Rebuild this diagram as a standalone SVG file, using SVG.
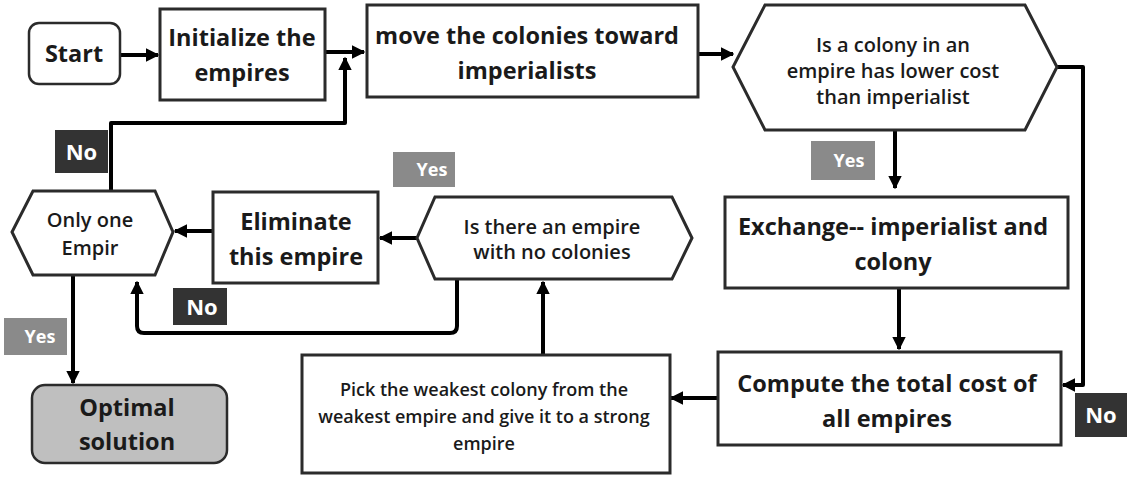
<svg xmlns="http://www.w3.org/2000/svg" width="1129" height="477" viewBox="0 0 1129 477">
  <defs>
    <style>
      .box { fill: #ffffff; stroke: #2b2b2b; stroke-width: 3; }
      .term { fill: #ffffff; stroke: #2b2b2b; stroke-width: 2.5; }
      .final { fill: #bfbfbf; stroke: #2b2b2b; stroke-width: 2.5; }
      .t { font-family: "Open Sans", "Liberation Sans", sans-serif; font-weight: 700; fill: #1a1a1a; text-anchor: middle; }
      .big { font-size: 23.5px; }
      .mid { font-size: 20px; font-weight: 600; }
      .sm { font-size: 18px; font-weight: 600; }
      .lblDark { fill: #333333; }
      .lblGray { fill: #8a8a8a; }
      .lt { font-family: "Open Sans", "Liberation Sans", sans-serif; font-weight: 700; font-size: 18px; fill: #ffffff; text-anchor: middle; }
      .lt.no { font-size: 22px; }
      .edge { fill: none; stroke: #000000; stroke-width: 4; stroke-linejoin: round; }
    </style>
    <marker id="arrow" viewBox="0 0 10 10" refX="9" refY="5" markerWidth="3.4" markerHeight="3.4" orient="auto" markerUnits="strokeWidth">
      <path d="M0,0 L10,5 L0,10 z" fill="#000000"/>
    </marker>
  </defs>

  <rect width="1129" height="477" fill="#ffffff"/>

  <!-- connectors -->
  <g id="connectors">
    <path class="edge" d="M120,55 L158,55" marker-end="url(#arrow)"/>
    <path class="edge" d="M325,52 L364,52" marker-end="url(#arrow)"/>
    <path class="edge" d="M111,191 L111,123 L345,123 L345,58" marker-end="url(#arrow)"/>
    <path class="edge" d="M698,54 L733,54" marker-end="url(#arrow)"/>
    <path class="edge" d="M895,130 L895,188" marker-end="url(#arrow)"/>
    <path class="edge" d="M1057,67 L1083,67 L1083,385 L1063,385" marker-end="url(#arrow)"/>
    <path class="edge" d="M899,288 L899,349" marker-end="url(#arrow)"/>
    <path class="edge" d="M718,398 L671,398" marker-end="url(#arrow)"/>
    <path class="edge" d="M543,355 L543,282" marker-end="url(#arrow)"/>
    <path class="edge" d="M417,238 L380,238" marker-end="url(#arrow)"/>
    <path class="edge" d="M457,279 L457,326 Q457,333 450,333 L144,333 Q137,333 137,326 L137,282" marker-end="url(#arrow)"/>
    <path class="edge" d="M213,231 L175,231" marker-end="url(#arrow)"/>
    <path class="edge" d="M73,275 L73,383" marker-end="url(#arrow)"/>
  </g>

  <!-- edge labels -->
  <g id="labels">
    <rect class="lblDark" x="55" y="130" width="53" height="43"/>
    <text class="lt no" x="81.5" y="160">No</text>
    <rect class="lblGray" x="393" y="152" width="62" height="35"/>
    <text class="lt" x="432" y="176">Yes</text>
    <rect class="lblDark" x="173" y="288" width="54" height="37"/>
    <text class="lt no" x="202" y="315">No</text>
    <rect class="lblGray" x="4" y="318" width="63" height="37"/>
    <text class="lt" x="40" y="343">Yes</text>
    <rect class="lblGray" x="811" y="141" width="64" height="39"/>
    <text class="lt" x="849" y="167">Yes</text>
    <rect class="lblDark" x="1075" y="393" width="52" height="44"/>
    <text class="lt no" x="1101" y="423">No</text>
  </g>

  <g id="start">
    <rect class="term" x="29" y="23" width="91" height="61" rx="10"/>
    <text class="t big" x="74" y="62">Start</text>
  </g>

  <g id="init">
    <rect class="box" x="160" y="9" width="165" height="91"/>
    <text class="t big" x="242" y="46">Initialize the</text>
    <text class="t big" x="242" y="81">empires</text>
  </g>

  <g id="move">
    <rect class="box" x="367" y="5" width="331" height="92"/>
    <text class="t big" x="527" y="44">move the colonies toward</text>
    <text class="t big" x="527" y="79">imperialists</text>
  </g>

  <g id="check-cost">
    <polygon class="box" points="765,5 1025,5 1057,67 1025,130 765,130 733,67"/>
    <text class="t mid" x="893" y="52">Is a colony in an</text>
    <text class="t mid" x="893" y="78">empire has lower cost</text>
    <text class="t mid" x="893" y="104">than imperialist</text>
  </g>

  <g id="exchange">
    <rect class="box" x="725" y="197" width="343" height="91"/>
    <text class="t big" x="893" y="235">Exchange-- imperialist and</text>
    <text class="t big" x="893" y="270">colony</text>
  </g>

  <g id="compute">
    <rect class="box" x="718" y="352" width="343" height="93"/>
    <text class="t big" x="887" y="392">Compute the total cost of</text>
    <text class="t big" x="887" y="427">all empires</text>
  </g>

  <g id="pick">
    <rect class="box" x="302" y="355" width="368" height="118"/>
    <text class="t sm" x="484" y="396">Pick the weakest colony from the</text>
    <text class="t sm" x="484" y="423">weakest empire and give it to a strong</text>
    <text class="t sm" x="484" y="450">empire</text>
  </g>

  <g id="check-empty">
    <polygon class="box" points="435,197 672,197 692,238 672,279 435,279 417,238"/>
    <text class="t mid" x="552" y="234">Is there an empire</text>
    <text class="t mid" x="552" y="259">with no colonies</text>
  </g>

  <g id="eliminate">
    <rect class="box" x="213" y="192" width="165" height="91"/>
    <text class="t big" x="296" y="230">Eliminate</text>
    <text class="t big" x="296" y="265">this empire</text>
  </g>

  <g id="only-one">
    <polygon class="box" points="33,191 155,191 173,232 155,275 33,275 12,232"/>
    <text class="t mid" x="90" y="227">Only one</text>
    <text class="t mid" x="90" y="255">Empir</text>
  </g>

  <g id="optimal">
    <rect class="final" x="32" y="385" width="195" height="78" rx="13"/>
    <text class="t big" x="127" y="416">Optimal</text>
    <text class="t big" x="127" y="450">solution</text>
  </g>
</svg>
